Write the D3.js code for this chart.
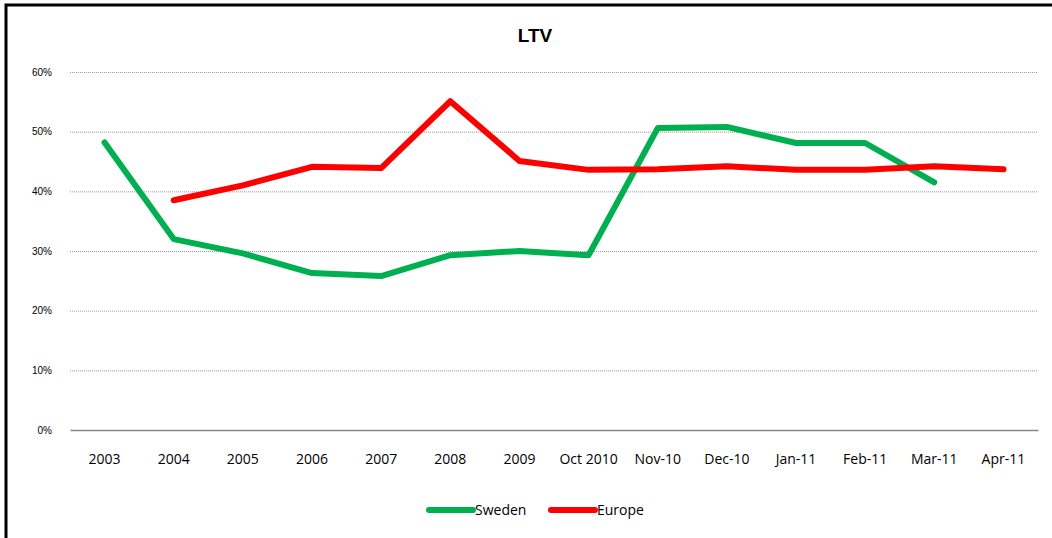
<!DOCTYPE html>
<html lang="en">
  <head>
    <meta charset="utf-8">
    <title>LTV</title>
    <script src="https://d3js.org/d3.v7.min.js"></script>
    <style type="text/css">
      body { margin: 0; background: #fff; }
      svg { display: block; }
    </style>
  </head>
  <body>
    <div id="chart"></div>
    <script type="text/javascript">
      var categories = ["2003", "2004", "2005", "2006", "2007", "2008", "2009", "Oct 2010",
                        "Nov-10", "Dec-10", "Jan-11", "Feb-11", "Mar-11", "Apr-11"];
      var sweden = [48.2, 32.0, 29.6, 26.3, 25.8, 29.3, 30.0, 29.3, 50.6, 50.8, 48.1, 48.1, 41.5, null];
      var europe = [null, 38.5, 41.0, 44.1, 43.9, 55.1, 45.1, 43.6, 43.7, 44.2, 43.6, 43.6, 44.2, 43.7];
      var yTicks = [0, 10, 20, 30, 40, 50, 60];

      var W = 1052, H = 538;
      var plotLeft = 70, plotRight = 1038, plotTop = 72, plotBottom = 430;

      var svg = d3.select("#chart").append("svg").attr("width", W).attr("height", H);

      // outer frame
      svg.append("rect").attr("x", 6).attr("y", 5).attr("width", W + 10).attr("height", H + 10)
        .attr("fill", "#fff").attr("stroke", "#000").attr("stroke-width", 3);

      var x = d3.scaleBand().domain(categories).range([plotLeft, plotRight]);
      var y = d3.scaleLinear().domain([0, 60]).range([plotBottom, plotTop]);

      svg.append("text").attr("x", 535).attr("y", 42).attr("text-anchor", "middle")
        .style("font-family", "Liberation Sans, Arial, sans-serif").style("font-weight", "bold")
        .style("font-size", "19px").text("LTV");

      // gridlines
      svg.selectAll("line.grid").data(yTicks.filter(function (d) { return d > 0; }))
        .enter().append("line").attr("class", "grid")
        .attr("x1", plotLeft).attr("x2", plotRight)
        .attr("y1", function (d) { return y(d) + 0.5; }).attr("y2", function (d) { return y(d) + 0.5; })
        .attr("stroke", "#999").attr("stroke-width", 1).attr("stroke-dasharray", "1,1");

      var yAxis = d3.axisLeft(y).tickValues(yTicks).tickSize(0).tickPadding(0)
        .tickFormat(function (d) { return d + "%"; });
      var gy = svg.append("g").attr("transform", "translate(52,0)").call(yAxis);
      gy.select(".domain").remove();
      gy.selectAll("text").style("font-family", "Liberation Sans, Arial, sans-serif")
        .style("font-size", "10px").attr("fill", "#000");

      var xAxis = d3.axisBottom(x).tickSize(0).tickPadding(0);
      var gx = svg.append("g").attr("transform", "translate(0," + plotBottom + ")").call(xAxis);
      gx.select(".domain").attr("stroke", "#888").attr("stroke-width", 1.5);
      gx.selectAll("text").attr("dy", "2.45em").style("font-family", "Open Sans, sans-serif")
        .style("font-size", "14px").attr("fill", "#000");

      var line = d3.line()
        .defined(function (d) { return d != null; })
        .x(function (d, i) { return x(categories[i]) + x.bandwidth() / 2; })
        .y(function (d) { return y(d); });

      var series = [
        { name: "Sweden", values: sweden, color: "#00b050" },
        { name: "Europe", values: europe, color: "#ff0000" }
      ];

      series.forEach(function (s) {
        svg.append("path").datum(s.values).attr("d", line)
          .attr("fill", "none").attr("stroke", s.color).attr("stroke-width", 6)
          .attr("stroke-linejoin", "round").attr("stroke-linecap", "round");
      });

      // legend
      var legendX = [429, 551];
      series.forEach(function (s, i) {
        var g = svg.append("g").attr("transform", "translate(" + legendX[i] + ",510)");
        g.append("line").attr("x1", 0).attr("x2", 44).attr("y1", 0).attr("y2", 0)
          .attr("stroke", s.color).attr("stroke-width", 6).attr("stroke-linecap", "round");
        g.append("text").attr("x", 46).attr("y", 5).style("font-family", "Open Sans, sans-serif")
          .style("font-size", "14px").text(s.name);
      });
    </script>
  </body>
</html>
